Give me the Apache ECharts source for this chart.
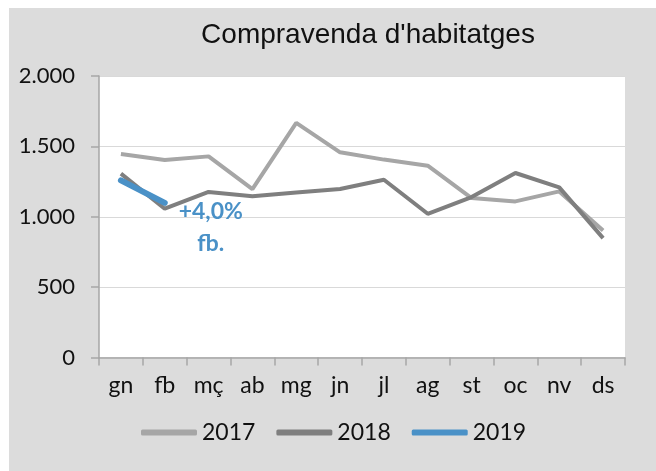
<!DOCTYPE html>
<html><head><meta charset="utf-8">
<script src="https://cdn.jsdelivr.net/npm/echarts@6/dist/echarts.min.js"></script>
<style>html,body{margin:0;padding:0;background:#fff;}#c{width:656px;height:471px;}</style>
</head><body><div id="c"></div>
<script>
const categories = ['gn','fb','mç','ab','mg','jn','jl','ag','st','oc','nv','ds'];
const values2017 = [1446,1403,1429,1197,1667,1458,1406,1363,1133,1109,1180,902];
const values2018 = [1306,1057,1176,1145,1173,1197,1263,1021,1140,1311,1209,848];
const values2019 = [1258,1099];
const yTicks = [0,500,1000,1500,2000];
const noteText = '+4,0%\nfb.';

const chart = echarts.init(document.getElementById('c'), null, {renderer:'canvas'});
const labelFont = 'Lato, "Open Sans", sans-serif';
chart.setOption({
  animation:false,
  backgroundColor:'transparent',
  graphic:[{type:'rect', z:-10, silent:true, shape:{x:9,y:8,width:647,height:463}, style:{fill:'#DCDCDC'}}],
  title:{text:"Compravenda d'habitatges", left:363, textAlign:'center', top:16,
    textStyle:{fontFamily:'"Liberation Sans", Arial, sans-serif', fontSize:28, fontWeight:'normal', color:'#111'}},
  legend:{left:136, top:416, itemWidth:56, itemHeight:6, itemGap:21, icon:'roundRect',
    textStyle:{fontFamily:labelFont, fontSize:23, color:'#111'},
    data:['2017','2018','2019']},
  grid:{left:99, right:31, top:76, bottom:113.5, show:true, backgroundColor:'#fff', borderWidth:0, containLabel:false},
  xAxis:{type:'category', data:categories, boundaryGap:true,
    axisLine:{lineStyle:{color:'#A6A6A6', width:1.5}},
    axisTick:{show:true, length:8, lineStyle:{color:'#A6A6A6', width:1.5}},
    axisLabel:{fontFamily:labelFont, fontSize:23, color:'#111', margin:17, interval:0}},
  yAxis:{type:'value', min:yTicks[0], max:yTicks[yTicks.length-1], interval:500,
    axisLine:{show:true, lineStyle:{color:'#A6A6A6', width:1.5}},
    axisTick:{show:true, length:8, lineStyle:{color:'#A6A6A6', width:1.5}},
    splitLine:{lineStyle:{color:'#D9D9D9', width:1}},
    axisLabel:{fontFamily:labelFont, fontSize:22, color:'#111', margin:24,
      formatter:v=>String(v).replace(/\B(?=(\d{3})+(?!\d))/g,'.')}},
  series:[
    {name:'2017', type:'line', data:values2017, showSymbol:false, symbol:'none', itemStyle:{color:'#A6A6A6'},
      lineStyle:{color:'#A6A6A6', width:4}},
    {name:'2018', type:'line', data:values2018, showSymbol:false, symbol:'none', itemStyle:{color:'#7F7F7F'},
      lineStyle:{color:'#7F7F7F', width:4}},
    {name:'2019', type:'line', symbol:'circle', symbolSize:0, showSymbol:true, itemStyle:{color:'#4A91C7'},
      lineStyle:{color:'#4A91C7', width:6, cap:'round'},
      data:values2019.map((v,i)=> i===values2019.length-1 ? {value:v, label:{show:true, formatter:noteText, position:'inside', offset:[46,25],
        fontFamily:labelFont, fontWeight:'bold', fontSize:23, lineHeight:32, color:'#4A91C7', align:'center'}} : v)}
  ]
});
</script></body></html>
